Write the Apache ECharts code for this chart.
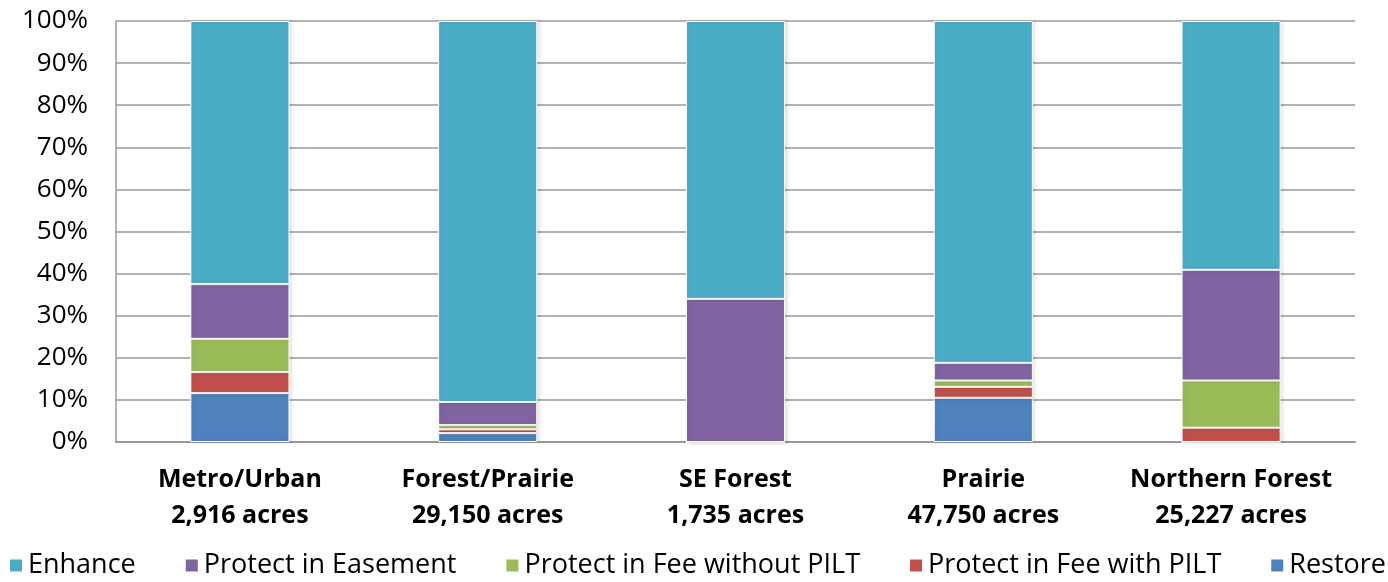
<!DOCTYPE html>
<html>
<head>
<meta charset="utf-8">
<script src="https://cdn.jsdelivr.net/npm/echarts@6/dist/echarts.min.js"></script>
<style>
    html, body { margin: 0; padding: 0; background: #fff; }
    #chart { width: 1388px; height: 582px; }
</style>
</head>
<body>
<div id="chart"></div>
<script>
// regions, with acres on a second line
const categories = ['Metro/Urban\n2,916 acres', 'Forest/Prairie\n29,150 acres', 'SE Forest\n1,735 acres', 'Prairie\n47,750 acres', 'Northern Forest\n25,227 acres']

// percent of each region's acres
const restore = [11.6, 2.1, 0, 10.5, 0]
const feeWithPilt = [5.0, 0.9, 0, 2.6, 3.4]
const feeWithoutPilt = [7.9, 1.0, 0, 1.5, 11.2]
const easement = [13.0, 5.5, 34.0, 4.2, 26.3]
const enhance = [62.5, 90.5, 66.0, 81.2, 59.1]

const legendOrder = ['Enhance', 'Protect in Easement', 'Protect in Fee without PILT', 'Protect in Fee with PILT', 'Restore']

const font = '"Open Sans", sans-serif'

const myChart = echarts.init(document.getElementById('chart'))

function bar(name, data, color) {
    return {
        name: name,
        type: 'bar',
        stack: 'total',
        barWidth: '40%',
        itemStyle: {
            color: color,
            borderColor: '#fff',
            borderWidth: 1,
            shadowColor: 'rgba(0,0,0,0.12)',
            shadowBlur: 4,
            shadowOffsetX: 2
        },
        data: data
    }
}

const option = {
    animation: false,
    textStyle: { fontFamily: font },
    grid: {
        left: 116,
        right: 33,
        top: 21,
        bottom: 140
    },
    legend: {
        data: legendOrder,
        left: 8,
        right: 0,
        bottom: 3,
        padding: 0,
        itemWidth: 14,
        itemHeight: 14,
        itemGap: 48,
        icon: 'rect',
        textStyle: { fontSize: 27, color: '#000', fontFamily: font }
    },
    xAxis: {
        type: 'category',
        data: categories,
        axisLine: { lineStyle: { color: '#999', width: 2 } },
        axisTick: { show: false },
        axisLabel: {
            fontSize: 25,
            fontWeight: 'bold',
            color: '#000',
            lineHeight: 36,
            margin: 20,
            interval: 0
        }
    },
    yAxis: {
        type: 'value',
        min: 0,
        max: 100,
        interval: 10,
        axisLine: { show: true, lineStyle: { color: '#999', width: 1.5 } },
        axisTick: { show: false },
        splitLine: { lineStyle: { color: '#999', width: 1.5 } },
        axisLabel: {
            formatter: '{value}%',
            fontSize: 26,
            color: '#000',
            margin: 28
        }
    },
    series: [
        bar('Restore', restore, '#4F81BD'),
        bar('Protect in Fee with PILT', feeWithPilt, '#C0504D'),
        bar('Protect in Fee without PILT', feeWithoutPilt, '#9BBB59'),
        bar('Protect in Easement', easement, '#8064A2'),
        bar('Enhance', enhance, '#4BACC6')
    ]
}

myChart.setOption(option)
</script>
</body>
</html>
